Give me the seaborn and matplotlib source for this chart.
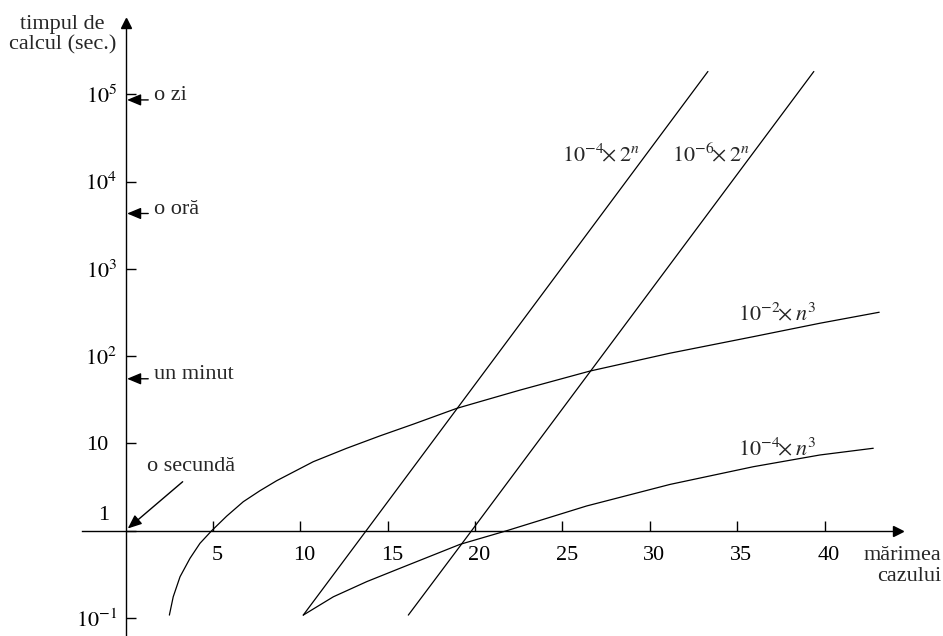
import numpy as np
import pandas as pd
import matplotlib
matplotlib.use('Agg')
import matplotlib.pyplot as plt
import matplotlib.transforms as mtransforms
import seaborn as sns

# curve 10^-2 * n^3
n_cub_a = [2.51, 2.73, 3.12, 3.69, 4.26, 4.93, 5.79, 6.74, 7.69, 8.65, 10.74, 12.65,
           14.56, 16.46, 18.95, 20.28, 22.57, 26.57, 31.15, 35.92, 39.73, 43.12]
t_cub_a = [0.108, 0.175, 0.297, 0.483, 0.717, 1.0, 1.47, 2.15, 2.87, 3.74, 6.17, 8.79,
           12.2, 16.6, 25.2, 30.1, 40.8, 67.4, 108, 167, 238, 318]

# curve 10^-4 * n^3
n_cub_b = [10.17, 11.89, 13.80, 15.70, 19.14, 21.81, 26.38, 31.15, 35.92, 39.73, 42.78]
t_cub_b = [0.108, 0.175, 0.261, 0.371, 0.698, 1.0, 1.92, 3.39, 5.41, 7.37, 8.8]

# lines 10^-4 * 2^n and 10^-6 * 2^n
n_exp_a = [10.17, 13.77, 33.32]
t_exp_a = [0.108, 1.0, 1.82e5]
n_exp_b = [16.18, 19.80, 39.38]
t_exp_b = [0.108, 1.0, 1.82e5]

curve_labels = [r'$10^{-4}\!\!\times 2^{n}$', r'$10^{-6}\!\!\times 2^{n}$',
                r'$10^{-2}\!\!\times n^{3}$', r'$10^{-4}\!\!\times n^{3}$']

x_ticks = [5, 10, 15, 20, 25, 30, 35, 40]
y_ticks = [0.1, 1, 10, 1e2, 1e3, 1e4, 1e5]
y_tick_labels = [r'$10^{-1}$', '1', '10', r'$10^{2}$', r'$10^{3}$', r'$10^{4}$', r'$10^{5}$']

# time marks on the y axis
marks = ['o zi', 'o oră', 'un minut']
mark_values = [8.6e4, 4.3e3, 55]

sns.set_theme(style='white')
plt.rcParams['font.family'] = ['Liberation Serif', 'DejaVu Serif']
plt.rcParams['mathtext.fontset'] = 'stix'

fig = plt.figure(figsize=(9.43, 6.36), dpi=100)
ax = fig.add_axes([0, 0, 1, 1])
ax.set_yscale('log')

curves = [(n_exp_a, t_exp_a), (n_exp_b, t_exp_b), (n_cub_a, t_cub_a), (n_cub_b, t_cub_b)]
for xs, ys in curves:
    df = pd.DataFrame({'n': xs, 't': ys})
    sns.lineplot(data=df, x='n', y='t', ax=ax, color='black', lw=0.9,
                 estimator=None, sort=False)

ax.set_xlim(-7.18, 46.77)
ax.set_ylim(10 ** -1.206, 10 ** 6.079)

# axes through the origin
for side in ['top', 'right']:
    ax.spines[side].set_visible(False)
ax.spines['left'].set_position(('data', 0))
ax.spines['bottom'].set_position(('data', 1))
ax.spines['left'].set_bounds(10 ** -1.206, 10 ** 5.8)
ax.spines['bottom'].set_bounds(-2.49, 44.0)
for side in ['left', 'bottom']:
    ax.spines[side].set_color('black')
    ax.spines[side].set_linewidth(1.0)

ax.plot([0], [10 ** 5.82], marker='^', ms=7, color='black', clip_on=False)
ax.plot([44.19], [1], marker='>', ms=7, color='black', clip_on=False)

ax.set_xticks(x_ticks)
ax.set_xticklabels([str(v) for v in x_ticks])
ax.set_yticks(y_ticks)
ax.set_yticklabels(y_tick_labels)
ax.yaxis.set_minor_locator(matplotlib.ticker.NullLocator())
ax.tick_params(axis='both', direction='in', length=7, width=1, color='black',
               labelsize=16, labelcolor='black')
ax.tick_params(axis='y', pad=6, left=True)
ax.tick_params(axis='x', pad=11, bottom=True)
ax.set_xlabel('')
ax.set_ylabel('')

# nudge a few tick labels like the original drawing
for lab in ax.get_xticklabels():
    lab.set_transform(lab.get_transform() +
                      mtransforms.ScaledTranslation(3 / 72, 0, fig.dpi_scale_trans))
ylabs = ax.get_yticklabels()
ylabs[1].set_transform(ylabs[1].get_transform() +
                       mtransforms.ScaledTranslation(-6 / 72, 13 / 72, fig.dpi_scale_trans))
ylabs[2].set_transform(ylabs[2].get_transform() +
                       mtransforms.ScaledTranslation(-6 / 72, 0, fig.dpi_scale_trans))

# axis titles
ax.text(0.066, 0.946, 'timpul de\ncalcul (sec.)', transform=ax.transAxes,
        ha='center', va='center', fontsize=16, linespacing=1.1)
ax.text(0.998, 0.110, 'mărimea\ncazului', transform=ax.transAxes,
        ha='right', va='center', fontsize=16, linespacing=1.1, multialignment='right')

# curve labels
label_pos = [(29.45, 10 ** 4.235), (35.75, 10 ** 4.235), (39.55, 10 ** 2.415), (39.55, 10 ** 0.867)]
for (lx, ly), text in zip(label_pos, curve_labels):
    ax.text(lx, ly, text, ha='right', va='baseline', fontsize=16)

# time marks with arrows
arrow_kw = dict(arrowstyle='-|>,head_length=0.6,head_width=0.25', color='black',
                lw=1, shrinkA=0, shrinkB=0, mutation_scale=14)
for text, val in zip(marks, mark_values):
    ax.annotate('', xy=(0.09, val), xytext=(1.30, val), arrowprops=arrow_kw,
                annotation_clip=False)
    ax.text(1.65, val * 1.12, text, ha='left', va='center', fontsize=16)

ax.annotate('', xy=(0.13, 1.06), xytext=(3.27, 3.64), arrowprops=arrow_kw)
ax.text(1.21, 5.37, 'o secundă', ha='left', va='center', fontsize=16)

fig.savefig('out.png', dpi=100)
